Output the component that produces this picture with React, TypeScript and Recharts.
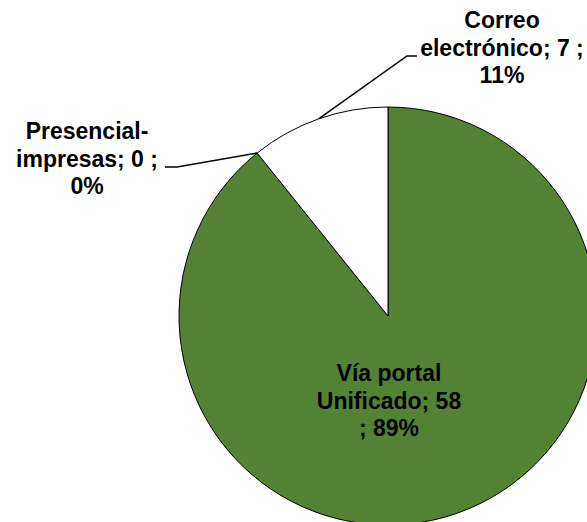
import { PieChart, Pie, Cell } from 'recharts';

const categories = ['Vía portal Unificado', 'Presencial-impresas', 'Correo electrónico'];
const values = [58, 0, 7];
const percents = [89, 0, 11];
const labelLines = [
  ['Vía portal', 'Unificado; 58', '; 89%'],
  ['Presencial-', 'impresas; 0 ;', '0%'],
  ['Correo', 'electrónico; 7 ;', '11%'],
];
const colors = ['#548235', '#FFFFFF', '#FFFFFF'];

const data = categories.map((name, i) => ({ name, value: values[i], percent: percents[i] }));

// label placement relative to the pie centre (first baseline, block centre x)
const labelLayout = [
  { dx: 1, dy: 65, elbow: null },
  { dx: -301, dy: -177, elbow: { x: -211, y: -149, endX: -223 } },
  { dx: 114, dy: -288, elbow: { x: 19, y: -260, endX: 29 } },
];

const CX = 388;
const CY = 316;
const RADIAN = Math.PI / 180;
const LINE_H = 27.5;
const FONT = '"Liberation Sans", Arial, sans-serif';

function renderLabel(props: any) {
  const { cx, cy, index } = props;
  const layout = labelLayout[index];
  const x = cx + layout.dx;
  const y = cy + layout.dy;
  return (
    <text
      key={`label-${index}`}
      x={x}
      y={y}
      textAnchor="middle"
      fontFamily={FONT}
      fontWeight="bold"
      fontSize={23}
      fill="#000"
    >
      {labelLines[index].map((line, i) => (
        <tspan key={i} x={x} y={y + i * LINE_H}>
          {line}
        </tspan>
      ))}
    </text>
  );
}

function renderLabelLine(props: any) {
  const { cx, cy, midAngle, outerRadius, index } = props;
  const layout = labelLayout[index];
  if (!layout.elbow) return <g key={`line-${index}`} />;
  const sx = cx + outerRadius * Math.cos(-midAngle * RADIAN);
  const sy = cy + outerRadius * Math.sin(-midAngle * RADIAN);
  const ex = cx + layout.elbow.x;
  const ey = cy + layout.elbow.y;
  const tx = cx + layout.elbow.endX;
  return (
    <polyline
      key={`line-${index}`}
      points={`${sx},${sy} ${ex},${ey} ${tx},${ey}`}
      fill="none"
      stroke="#000"
      strokeWidth={1.5}
    />
  );
}

export default function App() {
  return (
    <div
      style={{
        position: 'fixed',
        left: 0,
        top: 0,
        width: 587,
        height: 522,
        overflow: 'hidden',
        background: '#fff',
      }}
    >
      <PieChart width={587} height={522} margin={{ top: 0, right: 0, bottom: 0, left: 0 }}>
        <Pie
          data={data}
          dataKey="value"
          nameKey="name"
          cx={CX}
          cy={CY}
          outerRadius={209}
          startAngle={90}
          endAngle={-270}
          stroke="#000"
          strokeWidth={1}
          label={renderLabel}
          labelLine={renderLabelLine}
          isAnimationActive={false}
        >
          {data.map((entry, i) => (
            <Cell key={entry.name} fill={colors[i]} />
          ))}
        </Pie>
      </PieChart>
    </div>
  );
}
